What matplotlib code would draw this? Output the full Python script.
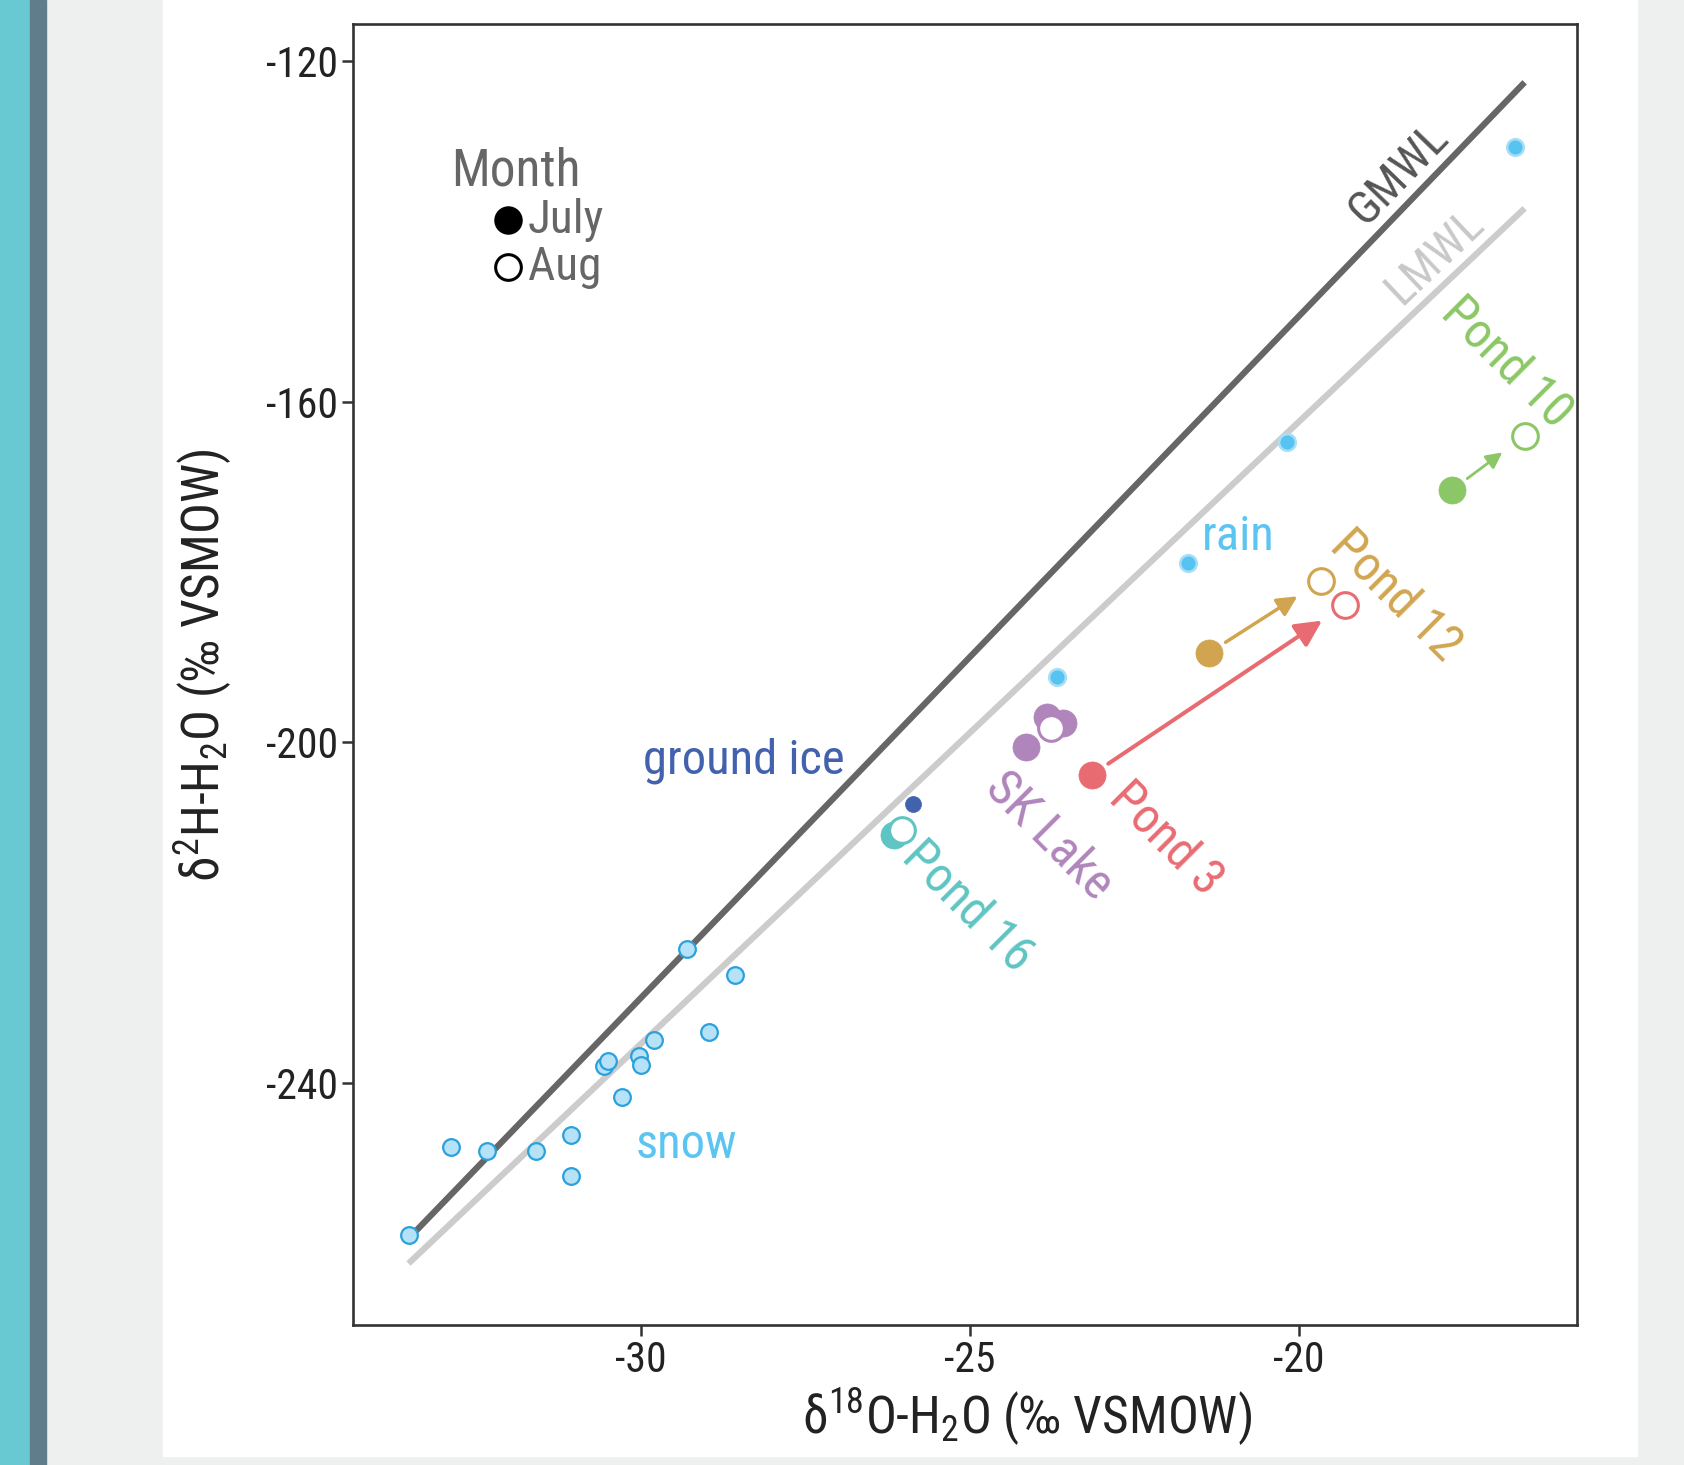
"""Dual-isotope plot: ponds, lake, snow, rain and ground ice vs GMWL / LMWL."""

import matplotlib
matplotlib.use("Agg")
import matplotlib.pyplot as plt
from matplotlib import font_manager
from matplotlib.patches import Rectangle
import numpy as np

# pick a narrow sans if one is installed
names = {(f.name, f.stretch) for f in font_manager.fontManager.ttflist}
fam_names = {n for n, _ in names}
stretch = "normal"
if "Roboto Condensed" in fam_names:
    base = "Roboto Condensed"
elif "Liberation Sans Narrow" in fam_names:
    base = "Liberation Sans Narrow"
elif any(n == "DejaVu Sans" and s in ("condensed", 75, "semi-condensed") for n, s in names):
    base = "DejaVu Sans"
    stretch = "condensed"
else:
    base = "DejaVu Sans"
plt.rcParams["font.family"] = [base, "DejaVu Sans"]
plt.rcParams["font.stretch"] = stretch
plt.rcParams["mathtext.fontset"] = "custom"
plt.rcParams["mathtext.rm"] = base
plt.rcParams["mathtext.it"] = base

# ---- data ----
snow_d18O = [-33.54, -32.89, -32.34, -31.60, -31.07, -31.07, -30.57, -30.51,
             -30.30, -30.04, -30.00, -29.81, -29.31, -28.97, -28.57]
snow_d2H = [-257.9, -247.6, -248.0, -248.0, -246.1, -251.0, -238.0, -237.5,
            -241.7, -236.9, -237.9, -235.0, -224.3, -234.1, -227.3]

rain_d18O = [-16.70, -20.18, -21.68, -23.68]
rain_d2H = [-130.1, -164.7, -178.9, -192.4]

ice_d18O = [-25.86]
ice_d2H = [-207.3]

sites = ["Pond 16", "SK Lake", "Pond 3", "Pond 12", "Pond 10"]
site_colors = ["#5ec5c2", "#b085bc", "#e96b72", "#d1a550", "#8bc766"]
july_d18O = [[-26.16], [-24.14, -23.83, -23.58], [-23.14], [-21.36], [-17.67]]
july_d2H = [[-210.9], [-200.6, -197.0, -197.8], [-203.8], [-189.5], [-170.4]]
aug_d18O = [[-26.04], [-23.77], [-19.29], [-19.66], [-16.56]]
aug_d2H = [[-210.3], [-198.3], [-183.9], [-181.1], [-164.0]]

# July -> August shift arrows (sites with an arrow)
arrow_sites = ["Pond 3", "Pond 12", "Pond 10"]
arrow_lw = [2.9, 2.5, 2.0]
arrow_head = [40, 30, 24]

gmwl_slope, gmwl_icpt = 8.0, 10.0
lmwl_slope, lmwl_icpt = 7.3, -16.4

x_ticks = [-30, -25, -20]
y_ticks = [-120, -160, -200, -240]

# ---- figure ----
W, H = 1684, 1465
fig = plt.figure(figsize=(W / 100, H / 100), dpi=100, facecolor="#eef0ef")
fig.patches.extend([
    Rectangle((0, 0), 30 / W, 1, transform=fig.transFigure, color="#68c9d3", zorder=-10),
    Rectangle((30 / W, 0), 16 / W, 1, transform=fig.transFigure, color="#607d8b", zorder=-10),
    Rectangle((163 / W, 1 - 1456 / H), (1637 - 163) / W, 1456 / H,
              transform=fig.transFigure, color="white", zorder=-10),
])

ax = fig.add_axes([353 / W, 1 - 1325 / H, (1577 - 353) / W, (1325 - 24) / H])
ax.set_facecolor("white")

# meteoric water lines across the data range
all_x = np.concatenate([snow_d18O, rain_d18O, ice_d18O] +
                       [np.ravel(v) for v in july_d18O + aug_d18O])
xr = np.array([all_x.min(), all_x.max()])
ax.plot(xr, gmwl_slope * xr + gmwl_icpt, color="#666666", lw=4.5,
        solid_capstyle="butt", zorder=2)
ax.plot(xr, lmwl_slope * xr + lmwl_icpt, color="#cccccc", lw=4.5,
        solid_capstyle="butt", zorder=1)

ax.text(-18.48, -133.3, "GMWL", color="#555555", fontsize=34, rotation=46,
        ha="center", va="center")
ax.text(-17.92, -142.9, "LMWL", color="#c8c8c8", fontsize=34, rotation=43.5,
        ha="center", va="center")

# snow, rain, ground ice
ax.plot(snow_d18O, snow_d2H, "o", ms=12, mfc="#b6e2f7", mec="#2aa0dc", mew=1.6, zorder=3)
ax.plot(rain_d18O, rain_d2H, "o", ms=12, mfc="#56c3f1", mec="#a9def7", mew=1.8, zorder=3)
ax.plot(ice_d18O, ice_d2H, "o", ms=11.5, mfc="#4262ae", mec="#4262ae", mew=0.5, zorder=3)

ax.text(-30.09, -248.9, "snow", color="#5bc5f2", fontsize=35, ha="left", va="baseline")
ax.text(-21.47, -177.4, "rain", color="#5bc5f2", fontsize=35, ha="left", va="baseline")
ax.text(-29.98, -203.7, "ground ice", color="#4262ae", fontsize=35, ha="left", va="baseline")

# ponds and lake
for name, c, jx, jy, ax_, ay in zip(sites, site_colors, july_d18O, july_d2H, aug_d18O, aug_d2H):
    ax.plot(jx, jy, "o", ms=19.5, mfc=c, mec=c, mew=0.5, ls="none", zorder=4)
    ax.plot(ax_, ay, "o", ms=18.5, mfc="white", mec=c, mew=2.2, ls="none", zorder=5)

for name, lw, hs in zip(arrow_sites, arrow_lw, arrow_head):
    i = sites.index(name)
    ax.annotate("", xy=(aug_d18O[i][0], aug_d2H[i][0]),
                xytext=(july_d18O[i][0], july_d2H[i][0]),
                arrowprops=dict(arrowstyle="-|>", color=site_colors[i], lw=lw,
                                mutation_scale=hs, shrinkA=14, shrinkB=20),
                zorder=4)

label_x = [-25.03, -23.80, -22.02, -18.52, -16.83]
label_y = [-219.3, -211.0, -211.4, -182.8, -155.4]
for name, c, lx, ly in zip(sites, site_colors, label_x, label_y):
    ax.text(lx, ly, name, color=c, fontsize=36, rotation=-45,
            ha="center", va="center", zorder=6)

# legend drawn by hand, ggplot-style
tc = "#666666"
ax.text(0.080, 0.876, "Month", transform=ax.transAxes, color=tc, fontsize=37,
        ha="left", va="baseline")
ax.plot([0.1266], [0.849], "o", transform=ax.transAxes, ms=19.5, mfc="black", mec="black")
ax.plot([0.1266], [0.813], "o", transform=ax.transAxes, ms=18.5, mfc="white", mec="black", mew=2.2)
ax.text(0.143, 0.849, "July", transform=ax.transAxes, color=tc, fontsize=34,
        ha="left", va="center")
ax.text(0.143, 0.813, "Aug", transform=ax.transAxes, color=tc, fontsize=34,
        ha="left", va="center")

# axes
ax.set_xlim(-34.385, -15.763)
ax.set_ylim(-268.47, -115.63)
ax.set_xticks(x_ticks)
ax.set_yticks(y_ticks)
ax.set_xticklabels([str(v) for v in x_ticks])
ax.set_yticklabels([str(v) for v in y_ticks])
ax.tick_params(length=8, width=1.8, color="#333333", labelsize=30,
               labelcolor="#222222", pad=3)
for s in ax.spines.values():
    s.set_linewidth(1.9)
    s.set_color("#333333")

ax.set_xlabel("δ$^{18}$O-H$_{2}$O (‰ VSMOW)", fontsize=37, color="#222222")
ax.xaxis.set_label_coords(0.551, -0.047)
ax.set_ylabel("δ$^{2}$H-H$_{2}$O (‰ VSMOW)", fontsize=37, color="#222222")
ax.yaxis.set_label_coords(-0.097, 0.507)

fig.savefig("out.png", dpi=100, facecolor=fig.get_facecolor())
